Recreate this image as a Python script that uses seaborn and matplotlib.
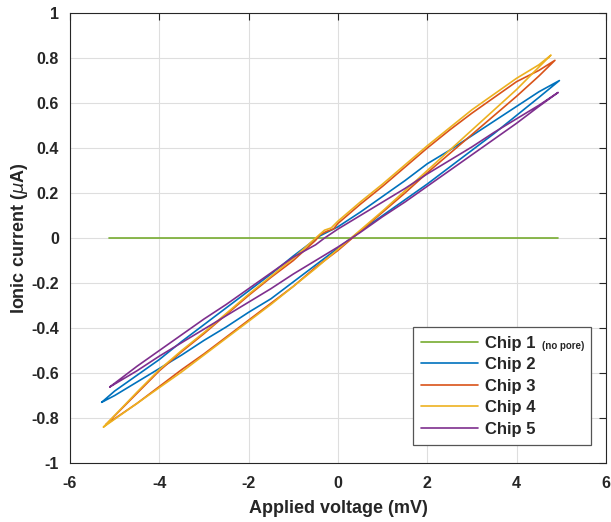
import numpy as np
import pandas as pd
import matplotlib
matplotlib.use("Agg")
import matplotlib.pyplot as plt
import seaborn as sns

# ---------------- data ----------------
# every chip is one I-V loop: forward sweep (lower branch) then back sweep (upper branch)
chips = ["Chip 1", "Chip 2", "Chip 3", "Chip 4", "Chip 5"]
colors = ["#77AC30", "#0072BD", "#D95319", "#EDB120", "#7E2F8E"]

# Chip 1 (no pore): flat line
chip1_v = [-5.13, 4.93]
chip1_i = [0.0, 0.0]

# Chip 2 (blue)
chip2_low_v = [-5.29, -5.0, -4.5, -4.0, -3.5, -3.0, -2.5, -2.0, -1.5, -1.0, -0.5, 0.0, 0.5, 1.0, 1.5, 2.0, 2.5, 3.0, 3.5, 4.0, 4.5, 4.96]
chip2_low_i = [-0.730, -0.700, -0.640, -0.580, -0.520, -0.455, -0.395, -0.330, -0.270, -0.195, -0.120, -0.045, 0.030, 0.100, 0.170, 0.240, 0.315, 0.390, 0.465, 0.545, 0.625, 0.700]
chip2_up_v = [4.96, 4.5, 4.0, 3.5, 3.0, 2.5, 2.0, 1.5, 1.0, 0.5, 0.0, -0.2, -0.4, -0.5, -1.0, -1.5, -2.0, -2.5, -3.0, -3.5, -4.0, -4.5, -5.0, -5.29]
chip2_up_i = [0.700, 0.650, 0.585, 0.520, 0.455, 0.390, 0.330, 0.255, 0.185, 0.115, 0.050, 0.030, 0.010, -0.005, -0.080, -0.160, -0.235, -0.310, -0.385, -0.460, -0.540, -0.610, -0.680, -0.730]

# Chip 3 (orange)
chip3_low_v = [-5.2, -4.5, -4.0, -3.5, -3.0, -2.5, -2.0, -1.5, -1.0, -0.5, 0.0, 0.5, 1.0, 1.5, 2.0, 2.5, 3.0, 3.5, 4.0, 4.5, 4.86]
chip3_low_i = [-0.830, -0.735, -0.660, -0.585, -0.515, -0.440, -0.365, -0.290, -0.215, -0.130, -0.055, 0.030, 0.115, 0.200, 0.290, 0.375, 0.460, 0.545, 0.630, 0.720, 0.790]
chip3_up_v = [4.86, 4.5, 4.0, 3.5, 3.0, 2.5, 2.0, 1.5, 1.0, 0.5, 0.0, -0.1, -0.25, -0.4, -0.5, -1.0, -1.5, -2.0, -2.5, -3.0, -3.5, -4.0, -4.5, -5.2]
chip3_up_i = [0.790, 0.745, 0.695, 0.625, 0.555, 0.480, 0.400, 0.315, 0.230, 0.150, 0.065, 0.040, 0.030, 0.015, -0.010, -0.100, -0.175, -0.255, -0.340, -0.425, -0.505, -0.590, -0.690, -0.830]

# Chip 4 (yellow)
chip4_low_v = [-5.25, -4.5, -4.0, -3.5, -3.0, -2.5, -2.0, -1.5, -1.0, -0.5, 0.0, 0.5, 1.0, 1.5, 2.0, 2.5, 3.0, 3.5, 4.0, 4.5, 4.77]
chip4_low_i = [-0.840, -0.735, -0.665, -0.595, -0.520, -0.445, -0.370, -0.295, -0.215, -0.135, -0.050, 0.035, 0.120, 0.210, 0.300, 0.390, 0.480, 0.570, 0.660, 0.760, 0.813]
chip4_up_v = [4.77, 4.5, 4.0, 3.5, 3.0, 2.5, 2.0, 1.5, 1.0, 0.5, 0.0, -0.15, -0.3, -0.5, -1.0, -1.5, -2.0, -2.5, -3.0, -3.5, -4.0, -4.5, -5.25]
chip4_up_i = [0.813, 0.770, 0.710, 0.640, 0.570, 0.490, 0.410, 0.325, 0.240, 0.160, 0.075, 0.045, 0.035, 0.000, -0.090, -0.170, -0.250, -0.335, -0.420, -0.500, -0.585, -0.685, -0.840]

# Chip 5 (purple)
chip5_low_v = [-5.11, -4.5, -4.0, -3.5, -3.0, -2.5, -2.0, -1.5, -1.0, -0.5, 0.0, 0.5, 1.0, 1.5, 2.0, 2.5, 3.0, 3.5, 4.0, 4.5, 4.93]
chip5_low_i = [-0.662, -0.590, -0.525, -0.465, -0.405, -0.345, -0.285, -0.225, -0.160, -0.100, -0.040, 0.025, 0.095, 0.160, 0.230, 0.300, 0.370, 0.440, 0.510, 0.585, 0.647]
chip5_up_v = [4.93, 4.5, 4.0, 3.5, 3.0, 2.5, 2.0, 1.5, 1.0, 0.5, 0.0, -0.3, -0.5, -1.0, -1.5, -2.0, -2.5, -3.0, -3.5, -4.0, -4.5, -5.11]
chip5_up_i = [0.647, 0.590, 0.530, 0.470, 0.405, 0.345, 0.285, 0.220, 0.160, 0.100, 0.040, 0.000, -0.030, -0.085, -0.155, -0.225, -0.295, -0.360, -0.430, -0.500, -0.570, -0.662]

x_ticks = [-6, -4, -2, 0, 2, 4, 6]
y_ticks = [-1, -0.8, -0.6, -0.4, -0.2, 0, 0.2, 0.4, 0.6, 0.8, 1]

# ---------------- long table for seaborn ----------------
loops = [
    (chip1_v, chip1_i),
    (chip2_low_v + chip2_up_v, chip2_low_i + chip2_up_i),
    (chip3_low_v + chip3_up_v, chip3_low_i + chip3_up_i),
    (chip4_low_v + chip4_up_v, chip4_low_i + chip4_up_i),
    (chip5_low_v + chip5_up_v, chip5_low_i + chip5_up_i),
]
frames = []
for name, (v, i) in zip(chips, loops):
    frames.append(pd.DataFrame({"chip": name, "V": v, "I": i, "step": range(len(v))}))
df = pd.concat(frames, ignore_index=True)

# ---------------- style ----------------
sns.set_style("white")
plt.rcParams["font.family"] = ["Liberation Sans", "DejaVu Sans"]
plt.rcParams["axes.unicode_minus"] = False
dark = "#262626"

fig = plt.figure(figsize=(6.11, 5.22), dpi=100)
ax = fig.add_axes([0.1146, 0.113, 0.877, 0.862])

sns.lineplot(data=df, x="V", y="I", hue="chip", palette=colors, hue_order=chips,
             units="chip", estimator=None, sort=False, linewidth=1.2, legend=False, ax=ax)

ax.set_xlim(-6, 6)
ax.set_ylim(-1, 1)
ax.set_xticks(x_ticks)
ax.set_yticks(y_ticks)
ax.set_xticklabels([f"{t:g}" for t in x_ticks])
ax.set_yticklabels([f"{t:g}" for t in y_ticks])
ax.tick_params(direction="in", top=True, right=True, length=5, width=0.8,
               colors=dark, labelsize=11.5)
ax.tick_params(axis="x", pad=9)
ax.tick_params(axis="y", pad=8)
for lab in ax.get_xticklabels() + ax.get_yticklabels():
    lab.set_fontweight("bold")
for sp in ax.spines.values():
    sp.set_visible(True)
    sp.set_color(dark)
    sp.set_linewidth(0.8)
ax.grid(True, color="#dedede", linewidth=0.8)
ax.set_axisbelow(True)

ax.set_xlabel("Applied voltage (mV)", fontsize=13, fontweight="bold", color=dark, labelpad=7)
ax.set_ylabel(r"Ionic current ($\mu$A)", fontsize=13, fontweight="bold", color=dark, labelpad=1)

# legend, box in the lower right
leg = ax.legend(ax.lines[:5], chips, loc="lower left", bbox_to_anchor=(0.640, 0.04, 0.332, 0.27),
                mode="expand", borderaxespad=0, prop={"weight": "bold", "size": 12},
                handlelength=3.4, handletextpad=0.4, labelspacing=0.39, borderpad=0.5,
                fancybox=False, framealpha=1, edgecolor="#555555")
leg.get_frame().set_linewidth(0.9)
for t in leg.get_texts():
    t.set_color(dark)
ax.annotate("(no pore)", xy=(1, 0), xycoords=(leg.get_texts()[1], leg.get_texts()[0]),
            xytext=(5, 0), textcoords="offset points", fontsize=7, fontweight="bold",
            color=dark, va="bottom", ha="left", zorder=10)

fig.savefig("out.png", dpi=100)
